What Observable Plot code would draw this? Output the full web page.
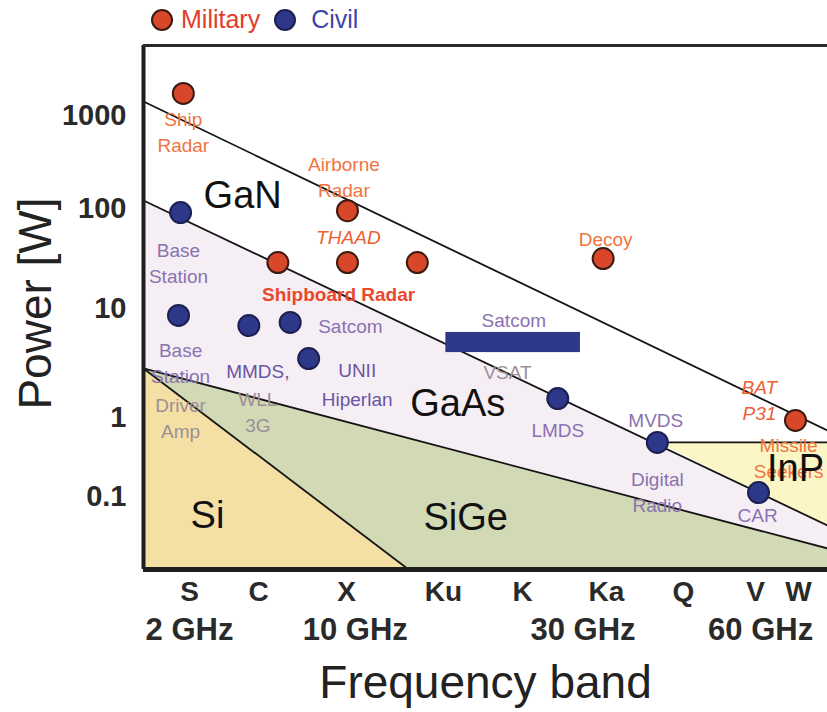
<!DOCTYPE html>
<html>
<head>
<meta charset="utf-8">
<script src="https://cdn.jsdelivr.net/npm/d3@7"></script>
<script src="https://cdn.jsdelivr.net/npm/@observablehq/plot@0.6"></script>
<style>
  body { margin: 0; background: #fff; font-family: "Liberation Sans", Arial, sans-serif; }
  #wrap { position: relative; width: 827px; height: 712px; overflow: hidden; }
  #legend { position: absolute; left: 151px; top: 5px; display: flex; align-items: center; font-size: 25px; z-index: 2; }
  #legend .dot { width: 18px; height: 18px; border-radius: 50%; border: 2px solid #2a1a14; display: inline-block; }
  #legend .item { display: flex; align-items: center; }
</style>
</head>
<body>
<div id="wrap"><div id="legend"></div></div>
<script>
// ---------- data ----------
const bands = ["S", "C", "X", "Ku", "K", "Ka", "Q", "V", "W"];
const bandIndex = [0, 1, 2, 3, 4, 5, 6, 7, 8];
const ghzLabels = ["2 GHz", "10 GHz", "30 GHz", "60 GHz"];
const ghzIndex = [0, 2.09, 4.72, 7.12];
const powerTicks = [0.1, 1, 10, 100, 1000];

const bandMin = -0.67, bandMax = 8.67;
const powerMin = 0.0119, powerMax = 5660;

// military applications (band index, power in W)
const militaryBand = [-0.09, 2.01, 1.22, 2.01, 2.73, 4.96, 7.93];
const militaryPower = [1725, 95, 28.8, 28.8, 28.8, 31.6, 0.917];

// civil applications
const civilBand = [-0.13, -0.16, 0.86, 1.36, 1.57, 4.42, 5.66, 7.07];
const civilPower = [91, 8.63, 6.98, 7.45, 3.47, 1.49, 0.483, 0.112];

// Satcom VSAT range
const vsatBand = [3.03, 4.69];
const vsatPower = [3.94, 6.03];

// technology boundaries (straight segments)
const boundaryName = ["GaN upper", "GaN / GaAs", "GaAs / SiGe", "Si / SiGe", "InP"];
const boundaryBand1 = [bandMin, bandMin, bandMin, bandMin, 5.66];
const boundaryPower1 = [1414, 122, 2.82, 2.82, 0.483];
const boundaryBand2 = [bandMax, bandMax, bandMax, 2.64, bandMax];
const boundaryPower2 = [0.684, 0.043, 0.022, powerMin, 0.483];

// labels
const militaryLabelText = ["Ship\nRadar", "Airborne\nRadar", "Decoy", "Missile\nSeekers"];
const militaryLabelBand = [-0.09, 1.97, 4.99, 7.77];
const militaryLabelPower = [690, 226, 51, 0.321];

const militaryItalicText = ["THAAD", "BAT\nP31"];
const militaryItalicBand = [2.02, 7.09];
const militaryItalicPower = [53.7, 1.49];

const militaryBoldText = ["Shipboard Radar"];
const militaryBoldBand = [1.91];
const militaryBoldPower = [13.8];

const civilLabelText = ["Base\nStation", "Base\nStation", "Satcom", "Satcom", "LMDS", "MVDS", "Digital\nRadio", "CAR"];
const civilLabelBand = [-0.16, -0.13, 2.04, 3.89, 4.42, 5.64, 5.66, 7.05];
const civilLabelPower = [29.5, 3.27, 7.13, 8.09, 0.726, 0.971, 0.119, 0.061];

const civilDarkText = ["MMDS,", "UNII\nHiperlan"];
const civilDarkBand = [0.99, 2.11];
const civilDarkPower = [2.82, 2.10];

const civilFadedText = ["Driver\nAmp", "WLL\n3G", "VSAT"];
const civilFadedBand = [-0.13, 0.99, 3.81];
const civilFadedPower = [1.02, 1.16, 2.70];

const regionText = ["GaN", "GaAs", "Si", "SiGe", "InP"];
const regionBand = [0.77, 3.18, 0.26, 3.28, 7.93];
const regionPower = [138, 1.34, 0.0575, 0.0541, 0.226];

const legendNames = ["Military", "Civil"];

// ---------- derived tables ----------
const seg = i => ({x1: boundaryBand1[i], y1: boundaryPower1[i], x2: boundaryBand2[i], y2: boundaryPower2[i]});
const boundaries = boundaryName.map((n, i) => ({name: n, ...seg(i)}));
const gaasArea = [
  {x: boundaryBand1[1], lo: powerMin, hi: boundaryPower1[1]},
  {x: boundaryBand2[1], lo: powerMin, hi: boundaryPower2[1]}
];
const inpArea = [
  {x: boundaryBand1[4], lo: boundaryPower1[4], hi: boundaryPower1[4]},
  {x: boundaryBand2[4], lo: boundaryPower2[1], hi: boundaryPower2[4]}
];
const sigeArea = [
  {x: boundaryBand1[2], lo: powerMin, hi: boundaryPower1[2]},
  {x: boundaryBand2[2], lo: powerMin, hi: boundaryPower2[2]}
];
const siArea = [
  {x: boundaryBand1[3], lo: powerMin, hi: boundaryPower1[3]},
  {x: boundaryBand2[3], lo: powerMin, hi: boundaryPower2[3]}
];
const labels = (t, b, p) => t.map((s, i) => ({text: s, x: b[i], y: p[i]}));

const font = "'Liberation Sans', Arial, Helvetica, sans-serif";
const milColor = "#d9472a", civColor = "#2d3889";

const chart = Plot.plot({
  width: 827,
  height: 712,
  marginLeft: 143,
  marginRight: 0,
  marginTop: 45,
  marginBottom: 143,
  style: {fontFamily: font, background: "#fff"},
  x: {type: "linear", axis: null,
      domain: [bandMin, 0, 1, 2, 3, 4, 5, 6, 7, 8, bandMax],
      range: [143, 189, 258, 346, 443, 522, 606, 683, 755, 798, 827]},
  y: {type: "log", axis: null,
      domain: [powerMin, 0.1, 1, 10, 100, 1000, powerMax],
      range: [569, 496, 417, 308, 208, 115, 45]},
  marks: [
    // regions
    Plot.areaY(gaasArea, {x: "x", y1: "lo", y2: "hi", fill: "#f6eef5"}),
    Plot.areaY(inpArea, {x: "x", y1: "lo", y2: "hi", fill: "#fbf6c6"}),
    Plot.areaY(sigeArea, {x: "x", y1: "lo", y2: "hi", fill: "#d2d9b5"}),
    Plot.areaY(siArea, {x: "x", y1: "lo", y2: "hi", fill: "#f4e0a4"}),
    // boundary lines
    Plot.link(boundaries, {x1: "x1", y1: "y1", x2: "x2", y2: "y2", stroke: "#141414", strokeWidth: 1.8}),
    // frame
    Plot.ruleX([bandMin], {stroke: "#1e1e1e", strokeWidth: 4}),
    Plot.ruleY([powerMin], {stroke: "#1e1e1e", strokeWidth: 5}),
    Plot.ruleY([powerMax], {stroke: "#2a2a2a", strokeWidth: 3}),
    // labels
    Plot.text(labels(militaryLabelText, militaryLabelBand, militaryLabelPower), {x: "x", y: "y", text: "text", fontSize: 19, lineHeight: 1.4, fill: "#ef7440"}),
    Plot.text(labels(militaryItalicText, militaryItalicBand, militaryItalicPower), {x: "x", y: "y", text: "text", fontSize: 19, lineHeight: 1.4, fontStyle: "italic", fill: "#ec5f34"}),
    Plot.text(labels(militaryBoldText, militaryBoldBand, militaryBoldPower), {x: "x", y: "y", text: "text", fontSize: 19, fontWeight: "bold", fill: "#e8482b"}),
    Plot.text(labels(civilLabelText, civilLabelBand, civilLabelPower), {x: "x", y: "y", text: "text", fontSize: 19, lineHeight: 1.4, fill: "#8a72b0"}),
    Plot.text(labels(civilDarkText, civilDarkBand, civilDarkPower), {x: "x", y: "y", text: "text", fontSize: 19, lineHeight: 1.5, fill: "#6a55a2"}),
    Plot.text(labels(civilFadedText, civilFadedBand, civilFadedPower), {x: "x", y: "y", text: "text", fontSize: 19, lineHeight: 1.4, fill: "#9c8f98"}),
    // region labels (drawn on top, as in the original)
    Plot.text(labels(regionText, regionBand, regionPower), {x: "x", y: "y", text: "text", fontSize: 38, fill: "#111"}),
    // VSAT bar
    Plot.rect([0], {x1: () => vsatBand[0], x2: () => vsatBand[1], y1: () => vsatPower[0], y2: () => vsatPower[1], fill: civColor}),
    // dots
    Plot.dot(militaryBand, {x: d => d, y: (d, i) => militaryPower[i], r: 10.5, fill: milColor, stroke: "#3b1a10", strokeWidth: 2}),
    Plot.dot(civilBand, {x: d => d, y: (d, i) => civilPower[i], r: 10.5, fill: civColor, stroke: "#1b2050", strokeWidth: 2}),
    // y tick labels
    Plot.text(powerTicks, {y: d => d, text: d => String(d), frameAnchor: "left", textAnchor: "end", lineAnchor: "middle", dx: -17, fontSize: 29, fontWeight: "bold", fill: "#2a2a2a"}),
    // x tick labels
    Plot.text(bands, {x: (d, i) => bandIndex[i], text: d => d, frameAnchor: "bottom", lineAnchor: "middle", dy: 23, fontSize: 28, fontWeight: "bold", fill: "#2a2a2a"}),
    Plot.text(ghzLabels, {x: (d, i) => ghzIndex[i], text: d => d, frameAnchor: "bottom", lineAnchor: "middle", dy: 61, fontSize: 31, fontWeight: "bold", fill: "#2a2a2a"}),
    // axis titles
    Plot.text(["Power [W]"], {text: d => d, frameAnchor: "left", textAnchor: "middle", lineAnchor: "middle", dx: -107, dy: -4, rotate: -90, fontSize: 46, fill: "#222"}),
    Plot.text(["Frequency band"], {text: d => d, frameAnchor: "bottom", textAnchor: "middle", lineAnchor: "middle", dy: 114, fontSize: 46, fill: "#222"})
  ]
});

document.getElementById("wrap").appendChild(chart);

// legend
const legendFill = [milColor, civColor];
const legendText = ["#e23c2a", "#3d47a8"];
const legend = document.getElementById("legend");
legendNames.forEach((name, i) => {
  const item = document.createElement("span");
  item.className = "item";
  item.style.marginLeft = i === 0 ? "0px" : "14px";
  const dot = document.createElement("span");
  dot.className = "dot";
  dot.style.background = legendFill[i];
  dot.style.borderColor = i === 0 ? "#3b1a10" : "#1b2050";
  const label = document.createElement("span");
  label.textContent = name;
  label.style.color = legendText[i];
  label.style.marginLeft = i === 0 ? "8px" : "15px";
  item.appendChild(dot);
  item.appendChild(label);
  legend.appendChild(item);
});
</script>
</body>
</html>
